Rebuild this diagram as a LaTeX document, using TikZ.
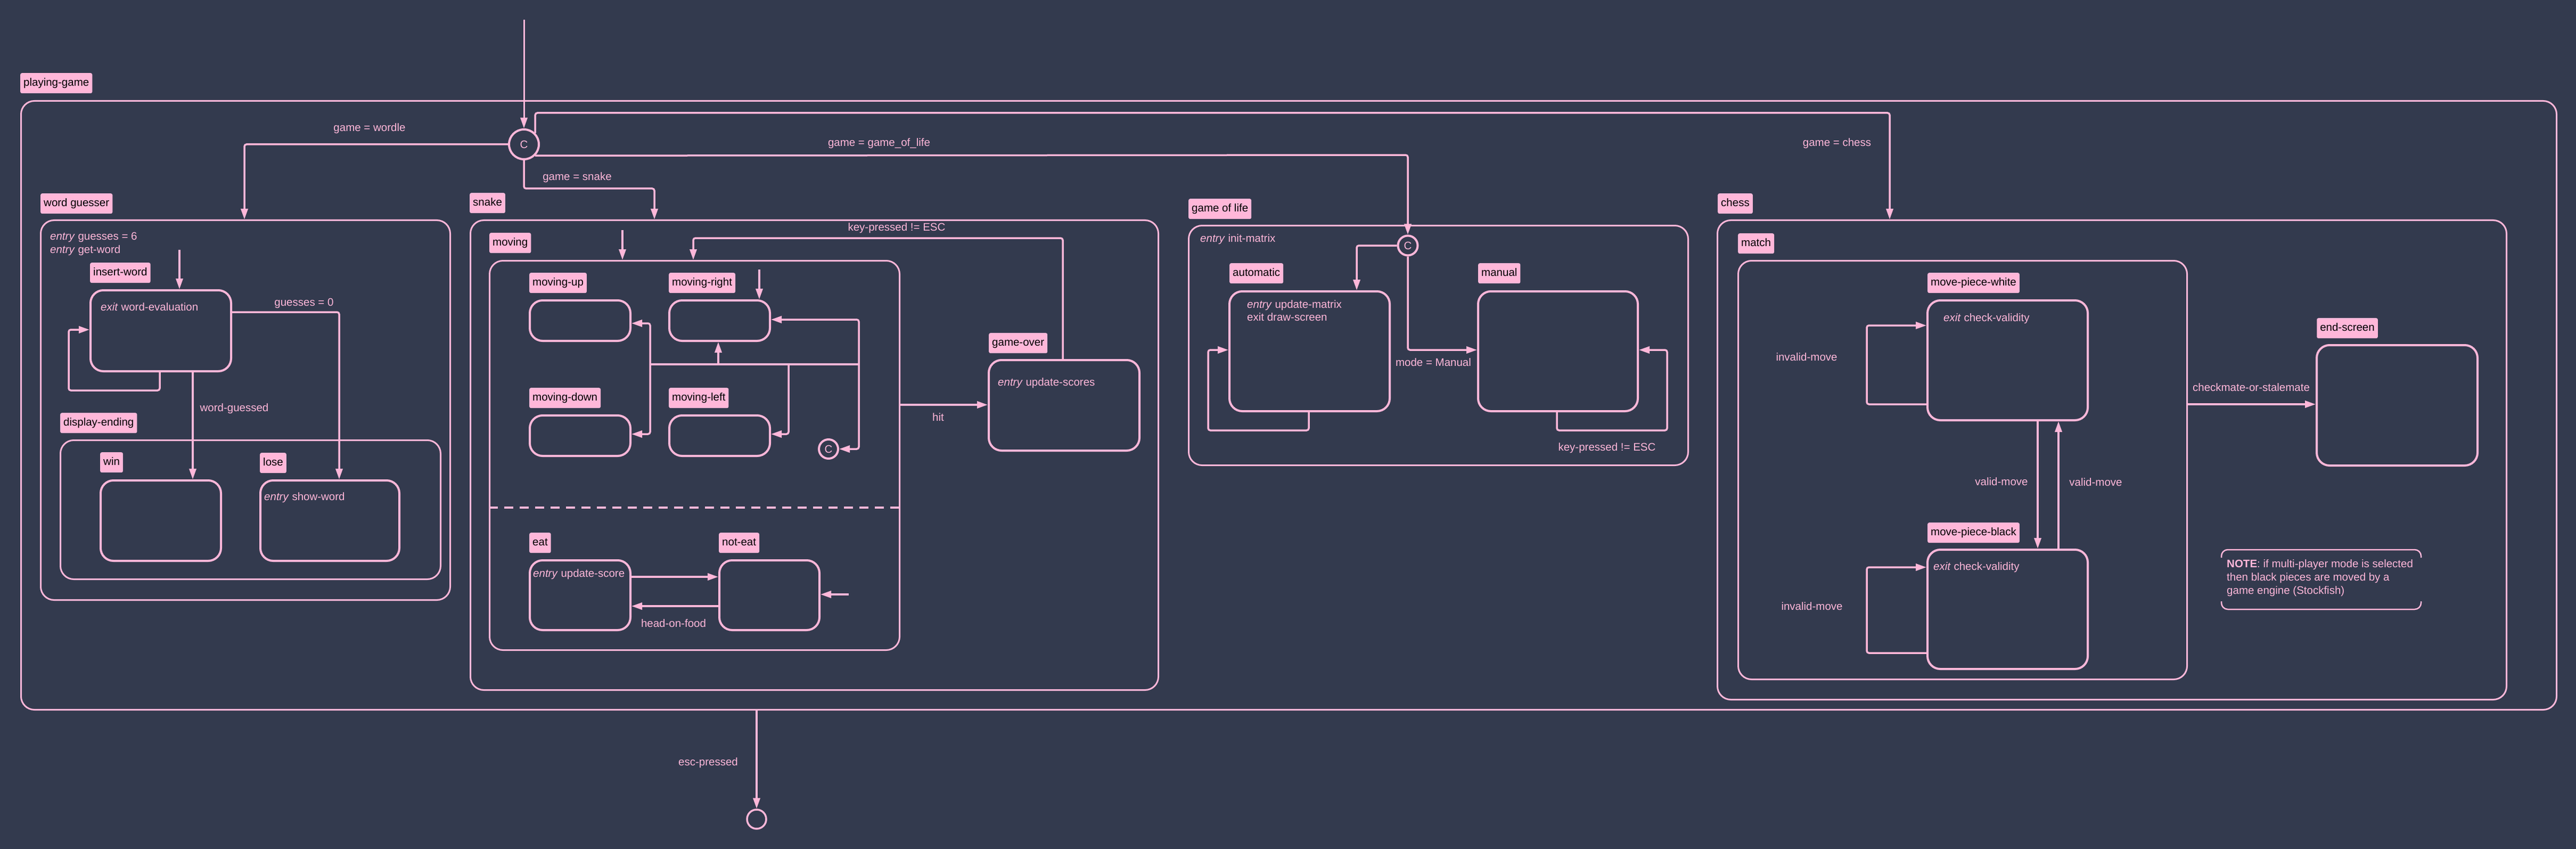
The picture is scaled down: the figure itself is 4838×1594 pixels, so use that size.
\documentclass[tikz,border=0pt]{standalone}
\usepackage{fontspec}
\setmainfont{Liberation Sans}
\usetikzlibrary{arrows.meta}
\definecolor{bg}{HTML}{333A4E}
\definecolor{pk}{HTML}{FFB7D9}
\begin{document}
\begin{tikzpicture}[x=1pt,y=-1pt,
  every node/.style={font=\fontsize{20.5}{24.6}\selectfont},
  tag/.style={fill=pk, text=black, rounded corners=3pt, anchor=north west, inner xsep=6pt, inner ysep=0pt, minimum height=38pt, text height=15pt, text depth=4.5pt},
  cont/.style={draw=pk, line width=3pt, rounded corners=25pt, anchor=north west, inner sep=0pt},
  st/.style={draw=pk, line width=4pt, rounded corners=24pt, anchor=north west, inner sep=0pt},
  tr/.style={draw=pk, line width=3.5pt, rounded corners=4pt, -{Triangle[length=20pt,width=13pt]}},
  ln/.style={draw=pk, line width=3.5pt, rounded corners=4pt},
  lbl/.style={text=pk, inner sep=0pt, text height=15pt, text depth=4.5pt},
  txt/.style={text=pk, anchor=west, inner sep=0pt, text height=15pt, text depth=4.5pt},
  choice/.style={circle, draw=pk, line width=4pt, text=pk, inner sep=0pt},
]
\fill[bg] (0,0) rectangle (4838,1594);
\useasboundingbox (0,0) rectangle (4838,1594);

% ---------- containers and states ----------
\node[cont, minimum width=4762pt, minimum height=1143pt] (pg) at (38,188) {};
\node[tag] (pgt) at (38,137) {playing-game};

% word guesser
\node[cont, minimum width=769pt, minimum height=713pt] (wg) at (75,412) {};
\node[tag] (wgt) at (76,363) {word guesser};
\node[txt] (wgx1) at (94,445) {\textit{entry} guesses = 6};
\node[txt] (wgx2) at (94,470) {\textit{entry} get-word};
\node[st, minimum width=264pt, minimum height=152pt] (iw) at (168,543) {};
\node[tag] (iwt) at (169,493) {insert-word};
\node[txt] (iwx) at (189,578) {\textit{exit} word-evaluation};
\node[cont, minimum width=714pt, minimum height=261pt] (de) at (112,825) {};
\node[tag] (det) at (113,775) {display-ending};
\node[st, minimum width=226pt, minimum height=151pt] (win) at (187,900) {};
\node[tag] (wint) at (188,849) {win};
\node[st, minimum width=261pt, minimum height=151pt] (lose) at (487,900) {};
\node[tag] (loset) at (488,850) {lose};
\node[txt] (losex) at (496,934) {\textit{entry} show-word};

% snake
\node[cont, minimum width=1292pt, minimum height=882pt] (sn) at (882,412) {};
\node[tag] (snt) at (882,362) {snake};
\node[cont, minimum width=770pt, minimum height=731pt] (mv) at (918,488) {};
\node[tag] (mvt) at (919,437) {moving};
\node[st, minimum width=189pt, minimum height=76pt] (mu) at (993,562) {};
\node[tag] (mut) at (994,512) {moving-up};
\node[st, minimum width=189pt, minimum height=76pt] (mr) at (1255,562) {};
\node[tag] (mrt) at (1256,512) {moving-right};
\node[st, minimum width=189pt, minimum height=76pt] (md) at (993,778) {};
\node[tag] (mdt) at (994,728) {moving-down};
\node[st, minimum width=189pt, minimum height=76pt] (ml) at (1255,778) {};
\node[tag] (mlt) at (1256,728) {moving-left};
\node[choice, minimum size=36pt] (c1) at (1556,843) {C};
\node[st, minimum width=189pt, minimum height=131pt] (eat) at (993,1050) {};
\node[tag] (eatt) at (994,1000) {eat};
\node[txt] (eatx) at (1001,1078) {\textit{entry} update-score};
\node[st, minimum width=188pt, minimum height=131pt] (ne) at (1349,1050) {};
\node[tag] (net) at (1350,1000) {not-eat};
\node[st, minimum width=283pt, minimum height=170pt] (go) at (1855,674) {};
\node[tag] (got) at (1857,625) {game-over};
\node[txt] (gox) at (1874,719) {\textit{entry} update-scores};
\draw[pk, line width=3.5pt, dash pattern=on 17pt off 12pt] (mv.west |- 0,953) -- (mv.east |- 0,953);

% game of life
\node[cont, minimum width=938pt, minimum height=450pt] (gl) at (2231,422) {};
\node[tag] (glt) at (2232,373) {game of life};
\node[txt] (glx) at (2254,449) {\textit{entry} init-matrix};
\node[choice, minimum size=37pt] (c2) at (2644,461) {C};
\node[st, minimum width=301pt, minimum height=225pt] (au) at (2307,545) {};
\node[tag] (aut) at (2309,494) {automatic};
\node[txt] (aux1) at (2342,573) {\textit{entry} update-matrix};
\node[txt] (aux2) at (2342,597) {exit draw-screen};
\node[st, minimum width=300pt, minimum height=225pt] (ma) at (2774,545) {};
\node[tag] (mat) at (2776,494) {manual};

% chess
\node[cont, minimum width=1482pt, minimum height=900pt] (ch) at (3224,412) {};
\node[tag] (cht) at (3226,363) {chess};
\node[cont, minimum width=843pt, minimum height=786pt] (mt) at (3263,488) {};
\node[tag] (mtt) at (3264,438) {match};
\node[st, minimum width=301pt, minimum height=225pt] (pw) at (3618,562) {};
\node[tag] (pwt) at (3620,512) {move-piece-white};
\node[txt] (pwx) at (3650,598) {\textit{exit} check-validity};
\node[st, minimum width=301pt, minimum height=224pt] (pb) at (3618,1030) {};
\node[tag] (pbt) at (3620,981) {move-piece-black};
\node[txt] (pbx) at (3631,1065) {\textit{exit} check-validity};
\node[st, minimum width=302pt, minimum height=226pt] (es) at (4349,646) {};
\node[tag] (est) at (4351,597) {end-screen};

% note
\node[txt] (n1) at (4182,1060) {\textbf{NOTE}: if multi-player mode is selected};
\node[txt] (n2) at (4182,1085) {then black pieces are moved by a};
\node[txt] (n3) at (4182,1110) {game engine (Stockfish)};
\draw[pk, line width=2.5pt, rounded corners=12pt] (4172,1047) -- (4172,1032) -- (4547,1032) -- (4547,1047);
\draw[pk, line width=2.5pt, rounded corners=12pt] (4172,1129) -- (4172,1144) -- (4547,1144) -- (4547,1129);

% top choice and final state
\node[choice, minimum size=56pt] (c0) at (984,271) {C};
\coordinate (start) at (984,37);
\node[circle, draw=pk, line width=3.5pt, minimum size=36pt, inner sep=0pt] (fin) at (1421,1538) {};

% ---------- transitions ----------
\draw[tr, line width=3pt] (start) -- (c0.north);
\draw[tr] (c0.west) -- (459,271) -- (wg.north -| 459,0);
\node[lbl] (l1) at (694,241) {game = wordle};
\draw[tr] (c0.south) -- (984,354) -- (1229,354) -- (sn.north -| 1229,0);
\node[lbl] (l2) at (1084,333) {game = snake};
\draw[tr] (c0.-45) -- (2644,291) -- (c2.north);
\node[lbl] (l3) at (1651,269) {game = game\_of\_life};
\draw[tr] (c0.45) -- (c0.45 |- 0,212) -- (3549,212) -- (ch.north -| 3549,0);
\node[lbl] (l4) at (3450,269) {game = chess};
\draw[tr] (pg.south -| 1421,0) -- (fin.north);
\node[lbl] (l5) at (1330,1432) {esc-pressed};

% word guesser
\coordinate (iwi) at (337,469);
\draw[tr] (iwi) -- (iw.north -| 337,0);
\draw[tr] (iw.south -| 300,0) -- (300,733) -- (129,733) -- (129,619) -- (iw.west |- 0,619);
\draw[tr] (iw.east |- 0,586) -- (637,586) -- (lose.north -| 637,0);
\node[lbl] (l6) at (571,569) {guesses = 0};
\draw[tr] (iw.south -| 362,0) -- (win.north -| 362,0);
\node[lbl] (l7) at (440,767) {word-guessed};

% snake
\coordinate (mvi) at (1169,432);
\draw[tr] (mvi) -- (mv.north -| 1169,0);
\draw[tr] (go.north -| 1996,0) -- (1996,447) -- (1302,447) -- (mv.north -| 1302,0);
\node[lbl] (l8) at (1684,428) {key-pressed != ESC};
\draw[tr] (mv.east |- 0,760) -- (go.west |- 0,760);
\node[lbl] (l9) at (1762,785) {hit};
\coordinate (mri) at (1426,506);
\draw[tr] (mri) -- (mr.north -| 1426,0);
\coordinate (bl) at (1221,684);
\coordinate (bm) at (1349,684);
\coordinate (bn) at (1481,684);
\coordinate (br) at (1613,684);
\draw[ln] (bl) -- (br);
\draw[tr] (bl) -- (1221,607) -- (mu.east |- 0,607);
\draw[tr] (bl) -- (1221,815) -- (md.east |- 0,815);
\draw[tr] (bm) -- (mr.south -| 1349,0);
\draw[tr] (bn) -- (1481,815) -- (ml.east |- 0,815);
\draw[tr] (br) -- (1613,600) -- (mr.east |- 0,600);
\draw[tr] (br) -- (1613,843) -- (c1.east);
\draw[tr] (eat.east |- 0,1083) -- (ne.west |- 0,1083);
\draw[tr] (ne.west |- 0,1138) -- (eat.east |- 0,1138);
\node[lbl] (l10) at (1265,1172) {head-on-food};
\coordinate (nei) at (1594,1116);
\draw[tr] (nei) -- (ne.east |- 0,1116);

% game of life
\draw[tr] (c2.west) -- (2548,461) -- (au.north -| 2548,0);
\draw[tr] (c2.south) -- (2644,657) -- (ma.west |- 0,657);
\node[lbl] (l11) at (2692,682) {mode = Manual};
\draw[tr] (au.south -| 2458,0) -- (2458,808) -- (2269,808) -- (2269,657) -- (au.west |- 0,657);
\draw[tr] (ma.south -| 2924,0) -- (2924,808) -- (3131,808) -- (3131,657) -- (ma.east |- 0,657);
\node[lbl] (l12) at (3018,841) {key-pressed != ESC};

% chess
\draw[tr] (pw.west |- 0,759) -- (3506,759) -- (3506,611) -- (pw.west |- 0,611);
\node[lbl] (l13) at (3393,672) {invalid-move};
\draw[tr] (pb.west |- 0,1226) -- (3506,1226) -- (3506,1065) -- (pb.west |- 0,1065);
\node[lbl] (l14) at (3403,1140) {invalid-move};
\draw[tr] (pw.south -| 3827,0) -- (pb.north -| 3827,0);
\node[lbl] (l15) at (3759,906) {valid-move};
\draw[tr] (pb.north -| 3866,0) -- (pw.south -| 3866,0);
\node[lbl] (l16) at (3936,907) {valid-move};
\draw[tr] (mt.east |- 0,759) -- (es.west |- 0,759);
\node[lbl] (l17) at (4228,729) {checkmate-or-stalemate};
\end{tikzpicture}
\end{document}
